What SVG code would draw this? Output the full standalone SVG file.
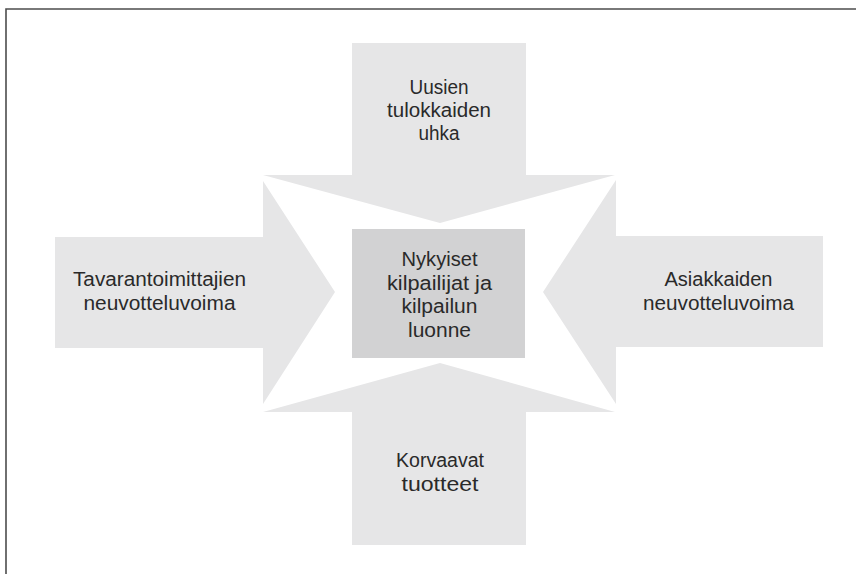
<svg xmlns="http://www.w3.org/2000/svg" width="856" height="574" viewBox="0 0 856 574">
<style>
.arrow{fill:#e6e6e7;}
.core{fill:#d2d2d3;}
.t{font-family:"Liberation Sans",Arial,sans-serif;font-size:19.5px;fill:#2a2a2a;text-anchor:middle;}
.frame{fill:none;stroke:#4d4d4d;stroke-width:1.6;}
</style>
<rect width="856" height="574" fill="#ffffff"/>
<path class="frame" d="M6,574 V9 H856"/>
<g id="new-entrants">
<polygon class="arrow" points="352,43 526,43 526,175 615,175 440,223 263,175 352,175"/>
<text class="t" x="439" y="94" textLength="59" lengthAdjust="spacingAndGlyphs">Uusien</text>
<text class="t" x="439" y="117" textLength="104" lengthAdjust="spacingAndGlyphs">tulokkaiden</text>
<text class="t" x="439" y="140" textLength="41" lengthAdjust="spacingAndGlyphs">uhka</text>
</g>
<g id="suppliers">
<polygon class="arrow" points="55,237 263,237 263,181 335,292 263,404 263,348 55,348"/>
<text class="t" x="159.5" y="286" textLength="173" lengthAdjust="spacingAndGlyphs">Tavarantoimittajien</text>
<text class="t" x="159.5" y="310" textLength="152" lengthAdjust="spacingAndGlyphs">neuvotteluvoima</text>
</g>
<g id="customers">
<polygon class="arrow" points="823,236 616,236 616,180 543,292 616,404 616,347 823,347"/>
<text class="t" x="718.5" y="286" textLength="108" lengthAdjust="spacingAndGlyphs">Asiakkaiden</text>
<text class="t" x="718.5" y="310" textLength="151" lengthAdjust="spacingAndGlyphs">neuvotteluvoima</text>
</g>
<g id="substitutes">
<polygon class="arrow" points="352,545 526,545 526,412 615,412 440,363 263,412 352,412"/>
<text class="t" x="440" y="467" textLength="88" lengthAdjust="spacingAndGlyphs">Korvaavat</text>
<text class="t" x="440" y="491" textLength="77" lengthAdjust="spacingAndGlyphs">tuotteet</text>
</g>
<g id="rivalry">
<rect class="core" x="352" y="229" width="173" height="129"/>
<text class="t" x="439.5" y="266" textLength="76" lengthAdjust="spacingAndGlyphs">Nykyiset</text>
<text class="t" x="439.5" y="289.5" textLength="105" lengthAdjust="spacingAndGlyphs">kilpailijat ja</text>
<text class="t" x="439.5" y="313" textLength="76" lengthAdjust="spacingAndGlyphs">kilpailun</text>
<text class="t" x="439.5" y="337" textLength="63" lengthAdjust="spacingAndGlyphs">luonne</text>
</g>
<g id="connectors"/>
</svg>
